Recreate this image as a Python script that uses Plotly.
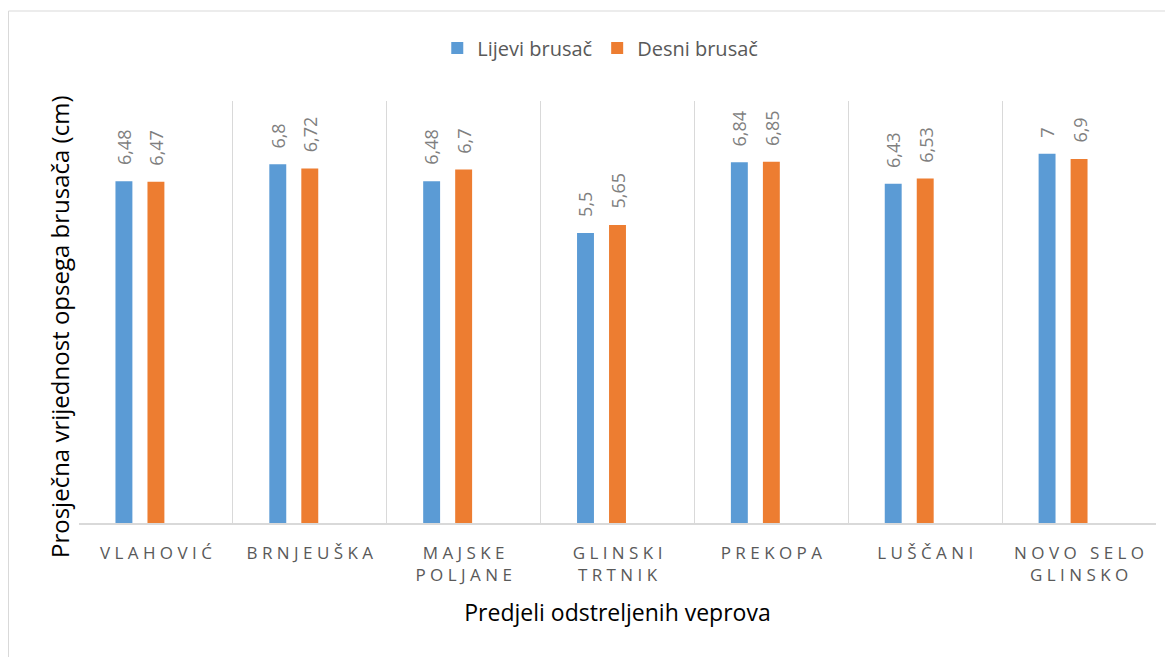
import plotly.graph_objects as go

categories = ["VLAHOVIĆ", "BRNJEUŠKA", "MAJSKE POLJANE", "GLINSKI TRTNIK",
              "PREKOPA", "LUŠČANI", "NOVO SELO GLINSKO"]
tick_lines = [["VLAHOVIĆ"], ["BRNJEUŠKA"], ["MAJSKE", "POLJANE"], ["GLINSKI", "TRTNIK"],
              ["PREKOPA"], ["LUŠČANI"], ["NOVO SELO", "GLINSKO"]]
lijevi = [6.48, 6.8, 6.48, 5.5, 6.84, 6.43, 7.0]
desni = [6.47, 6.72, 6.7, 5.65, 6.85, 6.53, 6.9]
y_title = "Prosječna vrijednost opsega brusača (cm)"
x_title = "Predjeli odstreljenih veprova"

BLUE = "#5b9bd5"
ORANGE = "#ed7d31"
GRID = "#d9d9d9"
W = 0.11
OFF_L = -0.263
OFF_R = -0.055

FIG_W, FIG_H = 1165, 649
ML, MR, MT, MB = 71, 17, 93, 134
PW = FIG_W - ML - MR
PH = FIG_H - MT - MB


def spaced(line):
    words = line.split(" ")
    return " \u00a0 ".join(" ".join(list(w)) for w in words)


ticktext = ["<br>".join(spaced(l) for l in lines) for lines in tick_lines]


def fmt(v):
    return f"{v:g}".replace(".", ",")


fig = go.Figure()
fig.add_trace(go.Bar(name="Lijevi brusač", x=categories, y=lijevi, marker_color=BLUE,
                     width=W, offset=OFF_L, marker_line_width=0))
fig.add_trace(go.Bar(name="Desni brusač", x=categories, y=desni, marker_color=ORANGE,
                     width=W, offset=OFF_R, marker_line_width=0))

annotations = []
for series, off in ((lijevi, OFF_L), (desni, OFF_R)):
    for i, v in enumerate(series):
        annotations.append(dict(x=i + off + W / 2, y=v, xref="x", yref="y",
                                text=fmt(v), showarrow=False, textangle=-90,
                                yanchor="bottom", xanchor="center", yshift=14,
                                font=dict(family="Open Sans", size=18, color="#7f7f7f")))

# y-axis title (placed as a rotated annotation, centred like the original)
annotations.append(dict(x=(51 - ML) / PW, y=(PH + MT - 319) / PH, xref="paper", yref="paper",
                        text=y_title, showarrow=False, textangle=-90,
                        xanchor="center", yanchor="middle",
                        font=dict(family="Open Sans", size=24, color="#000000")))

fig.update_layout(
    width=FIG_W, height=FIG_H,
    margin=dict(l=ML, r=MR, t=MT, b=MB, autoexpand=False),
    paper_bgcolor="white", plot_bgcolor="white",
    barmode="overlay",
    showlegend=True,
    legend=dict(orientation="h", x=0.484, xanchor="center", xref="paper",
                y=1 - 40 / FIG_H, yanchor="middle", yref="container",
                bgcolor="rgba(0,0,0,0)",
                font=dict(family="Open Sans", size=20, color="#595959"),
                itemsizing="constant", traceorder="normal", itemwidth=30),
    annotations=annotations,
    shapes=[dict(type="rect", xref="paper", yref="paper",
                 x0=(0.5 - ML) / PW, x1=(FIG_W + 20 - ML) / PW,
                 y0=-(MB + 20) / PH, y1=(PH + MT - 3) / PH,
                 line=dict(color=GRID, width=1), fillcolor="rgba(0,0,0,0)", layer="below")],
)
fig.update_xaxes(
    type="category", tickson="boundaries", showgrid=True, gridcolor=GRID, gridwidth=1,
    showline=True, linecolor=GRID, linewidth=1.5, ticks="", range=[-0.5, 6.5],
    tickvals=categories, ticktext=ticktext, automargin=False, ticklabelstandoff=14,
    tickfont=dict(family="Open Sans", size=17, color="#595959"),
    title=dict(text=x_title, standoff=20,
               font=dict(family="Open Sans", size=23, color="#000000")),
)
fig.update_yaxes(
    range=[0, 8], showgrid=False, zeroline=False, showticklabels=False, ticks="",
    showline=False, automargin=False,
)

fig.write_html("out.html")
